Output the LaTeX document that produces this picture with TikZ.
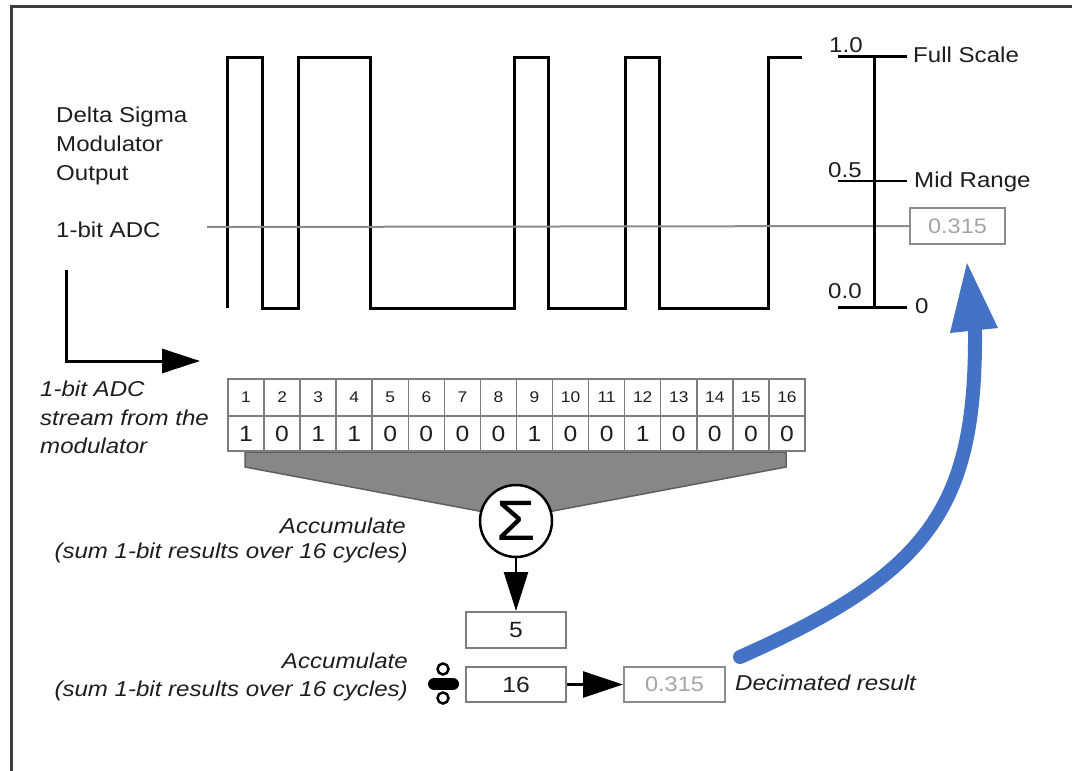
\documentclass[tikz,border=0pt]{standalone}
\usepackage{fontspec}
\setmainfont[FakeStretch=1.12]{Liberation Sans}
\usetikzlibrary{arrows.meta}
\definecolor{blueA}{RGB}{68,114,196}
\definecolor{cellgray}{RGB}{125,125,125}
\definecolor{funnelfill}{RGB}{135,135,135}
\definecolor{funneldraw}{RGB}{95,95,95}
\definecolor{txt}{RGB}{30,30,30}
\definecolor{lgray}{RGB}{165,165,165}
\definecolor{framecol}{RGB}{60,60,60}
\definecolor{adcline}{RGB}{140,140,140}
\begin{document}
\begin{tikzpicture}[x=1pt,y=-1pt,
  lbl/.style={font=\fontsize{21.5}{26}\selectfont, text=txt, inner sep=0pt},
  ilbl/.style={font=\fontsize{21.5}{26}\selectfont\itshape, text=txt, inner sep=0pt},
  topcell/.style={draw=cellgray, line width=1.5pt, minimum width=36.06pt, minimum height=37pt, inner sep=0pt, font=\fontsize{15.5}{15.5}\selectfont, text=txt},
  botcell/.style={draw=cellgray, line width=1.5pt, minimum width=36.06pt, minimum height=35pt, inner sep=0pt, font=\fontsize{22}{22}\selectfont, text=txt},
  numbox/.style={draw=cellgray, line width=2pt, fill=white, minimum width=100pt, minimum height=36pt, inner sep=0pt, font=\fontsize{22}{22}\selectfont, text=txt},
  resbox/.style={draw=lgray!85!black, line width=2pt, fill=white, minimum width=100pt, minimum height=35pt, inner sep=0pt, font=\fontsize{21}{21}\selectfont, text=lgray},
  wave/.style={line width=3pt, black, line join=miter},
  blk/.style={line width=2.5pt, black},
]
\useasboundingbox (0,0) rectangle (1072,771);
\fill[white] (0,0) rectangle (1072,771);
% frame
\draw[framecol, line width=3pt] (11,771) -- (11,6) -- (1072,6);

% labels top-left
\node[lbl, anchor=base west] (d1) at (56,122) {Delta Sigma};
\node[lbl, anchor=base west] (d2) at (56,151) {Modulator};
\node[lbl, anchor=base west] (d3) at (56,180) {Output};
\node[lbl, anchor=base west] (adc) at (56,237) {1-bit ADC};

% waveform
\draw[wave] (227,308) -- (227,57) -- (262,57) -- (262,308) -- (298,308) -- (298,57)
  -- (370,57) -- (370,308) -- (514,308) -- (514,57) -- (548,57) -- (548,308)
  -- (625,308) -- (625,57) -- (659,57) -- (659,308) -- (768,308) -- (768,57) -- (802,57);

% result box and ADC line
\node[resbox, minimum width=95pt, minimum height=36pt] (res) at (957.5,226) {0.315};
\coordinate (adcs) at (207,227);
\draw[adcline, line width=2pt] (adcs) -- (res.west);

% scale
\draw[line width=3pt] (874,56) -- (874,307);
\draw[line width=3pt] (838,56) -- (907,56);
\draw[line width=2pt] (838,181) -- (907,181);
\draw[line width=3pt] (838,307) -- (907,307);
\node[lbl, anchor=base west] (s10) at (829,52) {1.0};
\node[lbl, anchor=base west] (s05) at (828,177) {0.5};
\node[lbl, anchor=base west] (s00) at (828,298) {0.0};
\node[lbl, anchor=base west] (fs) at (913,62) {Full Scale};
\node[lbl, anchor=base west] (mr) at (914,187) {Mid Range};
\node[lbl, anchor=base west] (z0) at (915,313) {0};

% L arrow
\coordinate (Ls) at (66,270);
\coordinate (Le) at (200,361);
\draw[line width=3pt, -{Triangle[length=38pt,width=24pt]}] (Ls) |- (Le);

% italic stream label
\node[ilbl, anchor=base west] (st1) at (40,396) {1-bit ADC};
\node[ilbl, anchor=base west] (st2) at (40,425) {stream from the};
\node[ilbl, anchor=base west] (st3) at (40,453) {modulator};

% funnel
\filldraw[fill=funnelfill, draw=funneldraw, line width=1.5pt]
  (245,452) -- (786,452) -- (786,467) -- (516,518) -- (245,467) -- cycle;

% table
\foreach \i/\b in {1/1,2/0,3/1,4/1,5/0,6/0,7/0,8/0,9/1,10/0,11/0,12/1,13/0,14/0,15/0,16/0}{
  \node[topcell] (t\i) at ({228+36.06*(\i-0.5)},397.5) {\i};
  \node[botcell] (b\i) at ({228+36.06*(\i-0.5)},433.5) {\b};
}

% sigma
\node[circle, draw=black, line width=2.5pt, fill=white, minimum size=72pt, inner sep=0pt, text=black]
  (sig) at (516,521) {\fontsize{57}{57}\selectfont\raisebox{1pt}{Σ}};

\node[ilbl, anchor=base east] (acc1) at (406,533) {Accumulate};
\node[ilbl, anchor=base east] (sum1) at (408,558) {(sum 1-bit results over 16 cycles)};

% boxes
\node[numbox] (five) at (516,630) {5};
\node[numbox, minimum height=35pt] (sixteen) at (516,684.5) {16};
\node[resbox, minimum width=101pt] (dec) at (674.5,684.5) {0.315};

\draw[blk, -{Triangle[length=39pt,width=24pt]}] (sig.south) -- (five.north);
\draw[blk, -{Triangle[length=40pt,width=26pt]}] (sixteen.east) -- (dec.west);

\node[ilbl, anchor=base east] (acc2) at (408,668) {Accumulate};
\node[ilbl, anchor=base east] (sum2) at (408,696) {(sum 1-bit results over 16 cycles)};
\node[ilbl, anchor=base west] (decr) at (735,690) {Decimated result};

% divide sign
\draw[line width=2.5pt, fill=white] (443,669) circle (5.5pt);
\draw[line width=2.5pt, fill=white] (443,698) circle (5.5pt);
\draw[line width=12pt, line cap=round] (434,684) -- (453,684);

% blue arrow
\coordinate (bs) at (740,657);
\coordinate (be) at (975,332);
\draw[blueA, line width=14pt, line cap=round] (bs) .. controls (929,573) and (976,508) .. (be);
\fill[blueA] (950,333) -- (998,328) -- (967,263) -- cycle;
\end{tikzpicture}
\end{document}
